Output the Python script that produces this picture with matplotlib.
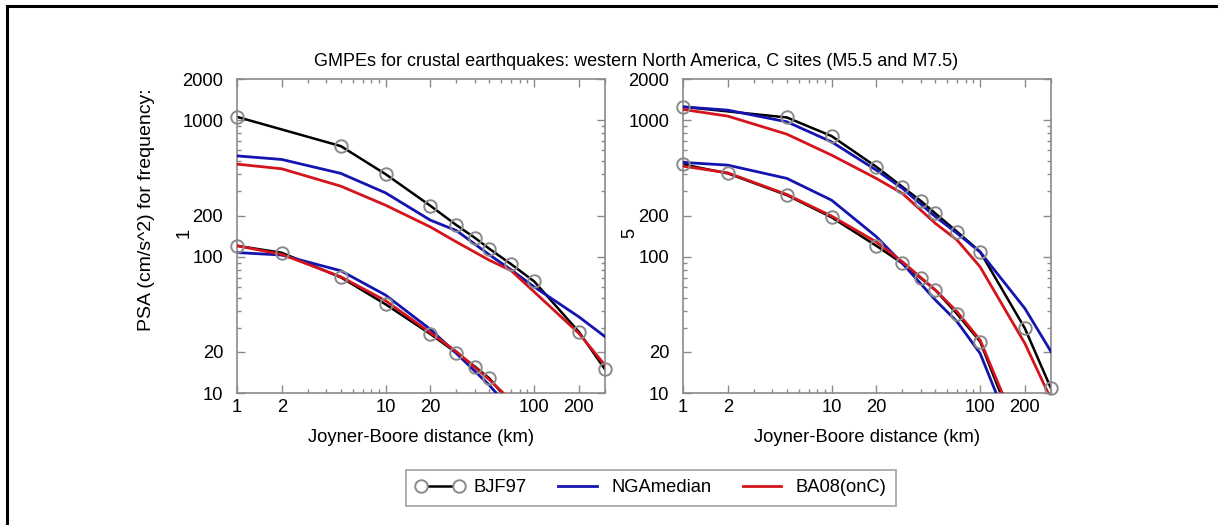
import numpy as np
import matplotlib.pyplot as plt
from matplotlib.lines import Line2D
from matplotlib.ticker import FixedLocator, NullFormatter

plt.rcParams['font.family'] = ['Liberation Sans', 'DejaVu Sans']

# distances (km)
d_bjf_big = [1, 5, 10, 20, 30, 40, 50, 70, 100, 200, 300]
d_bjf_small = [1, 2, 5, 10, 20, 30, 40, 50, 70, 100, 200, 300]
d_nga = [1, 2, 5, 10, 20, 30, 50, 70, 100, 200, 300]

# frequency 1 Hz
f1_bjf_m75 = [1057, 645, 402, 236, 170, 137, 114, 88, 65.8, 28.1, 14.9]
f1_bjf_m55 = [120, 106.7, 70.4, 44.7, 27.1, 19.7, 15.6, 12.8, 8.3, 5.4, 2.0, 1.0]
f1_nga_m75 = [547, 515, 407, 293, 185, 155, 103, 80, 60, 36.2, 25.9]
f1_nga_m55 = [107, 102.6, 78.7, 52.2, 29.3, 19.5, 11.4, 7.5, 4.8, 1.9, 1.0]
f1_ba_m75 = [476, 440, 328, 238, 165, 128, 94, 79, 55.2, 27.4, 16.0]
f1_ba_m55 = [120, 103.8, 71.1, 47.5, 27.7, 20.1, 12.5, 8.8, 6.0, 2.4, 1.2]

# frequency 5 Hz
f5_bjf_m75 = [1252, 1046, 764, 455, 324, 255, 207, 152, 108.4, 29.8, 10.8]
f5_bjf_m55 = [474, 407, 282, 194, 120, 89.1, 69.2, 56.8, 37.9, 23.8, 3.5, 0.9]
f5_nga_m75 = [1252, 1184, 972, 693, 430, 316, 196, 148, 108, 41.7, 20.1]
f5_nga_m55 = [490, 468, 374, 259, 140, 89, 48, 33.3, 19.5, 3.0, 0.8]
f5_ba_m75 = [1198, 1070, 789, 554, 374, 290, 175, 132, 84, 23.1, 9.0]
f5_ba_m55 = [460, 411, 285, 198, 128, 91.6, 56.8, 39.4, 24.4, 4.0, 1.0]

panels = [
    ('1', f1_bjf_m75, f1_bjf_m55, f1_nga_m75, f1_nga_m55, f1_ba_m75, f1_ba_m55),
    ('5', f5_bjf_m75, f5_bjf_m55, f5_nga_m75, f5_nga_m55, f5_ba_m75, f5_ba_m55),
]

BLUE = '#1414b0'
RED = '#d4141c'
GREY = '#8a8a8a'
FS = 13.2

fig = plt.figure(figsize=(12.18, 5.25), dpi=100)
lefts = [0.1946, 0.5608]

for (freq, bb, bs, nb, ns, rb, rs), left in zip(panels, lefts):
    ax = fig.add_axes([left, 0.2514, 0.3021, 0.598])
    ax.set_xscale('log')
    ax.set_yscale('log')
    ax.set_xlim(1, 300)
    ax.set_ylim(10, 2000)

    for dd, vals in [(d_bjf_big, bb), (d_bjf_small, bs)]:
        ax.plot(dd, vals, color='black', lw=1.8, zorder=2)
    for vals in [nb, ns]:
        ax.plot(d_nga, vals, color=BLUE, lw=2, zorder=3)
    for vals in [rb, rs]:
        ax.plot(d_nga, vals, color=RED, lw=2, zorder=4)
    # circles only where inside the plot range
    for dd, vals in [(d_bjf_big, bb), (d_bjf_small, bs)]:
        dd = np.array(dd, float)
        vals = np.array(vals, float)
        m = (vals >= 10) & (dd <= 300)
        ax.plot(dd[m], vals[m], 'o', ms=9, mfc='none', mec=GREY,
                mew=1.4, clip_on=False, zorder=5)

    ax.xaxis.set_major_locator(FixedLocator([1, 2, 10, 20, 100, 200]))
    ax.xaxis.set_minor_locator(FixedLocator([3, 4, 5, 6, 7, 8, 9, 30, 40, 50, 60, 70, 80, 90, 300]))
    ax.set_xticklabels(['1', '2', '10', '20', '100', '200'])
    ax.yaxis.set_major_locator(FixedLocator([10, 20, 100, 200, 1000, 2000]))
    ax.yaxis.set_minor_locator(FixedLocator([30, 40, 50, 60, 70, 80, 90,
                                             300, 400, 500, 600, 700, 800, 900]))
    ax.set_yticklabels(['10', '20', '100', '200', '1000', '2000'])
    ax.xaxis.set_minor_formatter(NullFormatter())
    ax.yaxis.set_minor_formatter(NullFormatter())
    ax.tick_params(which='both', direction='in', top=True, right=True,
                   color=GREY, labelsize=FS, width=1)
    ax.tick_params(which='major', length=6)
    ax.tick_params(axis='x', which='major', pad=4.5)
    ax.tick_params(axis='y', which='major', pad=10)
    ax.tick_params(which='minor', length=3)
    for s in ax.spines.values():
        s.set_color(GREY)
        s.set_linewidth(1.2)
    ax.set_xlabel('Joyner-Boore distance (km)', fontsize=FS, labelpad=9)
    ax.set_ylabel(freq, fontsize=FS)
    ax.yaxis.set_label_coords(-0.122, 0.51)

fig.text(0.12, 0.60, 'PSA (cm/s^2) for frequency:', rotation=90,
         ha='center', va='center', fontsize=14)
fig.text(0.522, 0.882, 'GMPEs for crustal earthquakes: western North America, C sites (M5.5 and M7.5)',
         ha='center', va='center', fontsize=13)

handles = [
    Line2D([0], [0], color='black', lw=1.8, marker='o', ms=9, mfc='white',
           mec=GREY, mew=1.4),
    Line2D([0], [0], color=BLUE, lw=2),
    Line2D([0], [0], color=RED, lw=2),
]
leg = fig.legend(handles, ['BJF97', 'NGAmedian', 'BA08(onC)'], loc='center',
                 bbox_to_anchor=(0.5345, 0.0705), ncol=3, fontsize=FS, frameon=True,
                 fancybox=False, numpoints=2, handlelength=2.7, handletextpad=0.5,
                 columnspacing=1.4, borderpad=0.5)
leg.get_frame().set_edgecolor(GREY)
leg.get_frame().set_linewidth(1.2)

# page frame
fig.add_artist(Line2D([0.0057, 1.0], [0.989, 0.989], color='black', lw=2.2))
fig.add_artist(Line2D([0.0057, 0.0057], [0.0, 0.989], color='black', lw=2.2))

fig.savefig('out.png', dpi=100)
